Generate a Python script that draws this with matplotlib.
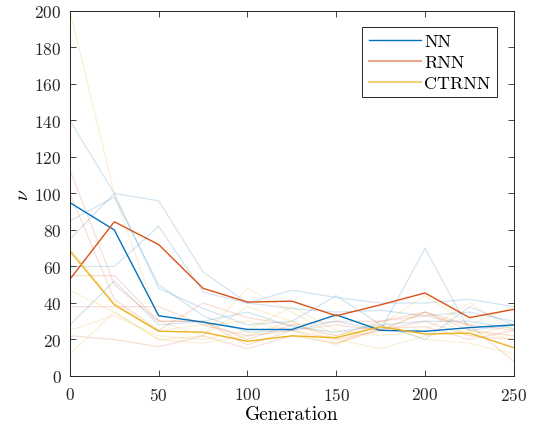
import matplotlib
matplotlib.use("Agg")
import matplotlib.pyplot as plt
from matplotlib.lines import Line2D

plt.rcParams["font.family"] = "serif"
plt.rcParams["font.serif"] = ["cmr10", "DejaVu Serif"]
plt.rcParams["mathtext.fontset"] = "cm"
plt.rcParams["axes.formatter.use_mathtext"] = True

generation = [0, 25, 50, 75, 100, 125, 150, 175, 200, 225, 250]

# mean curves
nn_mean = [95, 80, 33, 29.5, 25.5, 25.5, 33.5, 25, 24.5, 26.5, 28]
rnn_mean = [53, 84.5, 72, 48, 40.5, 41, 33, 39, 45.5, 32, 36.5]
ctrnn_mean = [68.5, 39, 24.5, 24, 19, 22, 21, 27, 23, 23.5, 15.5]

# individual runs
nn_runs = [
    [140, 100, 48, 37, 28, 30, 44, 28, 20, 38, 28],
    [85, 98, 50, 33, 24, 25, 30, 25, 70, 25, 28],
    [75, 100, 96, 57, 40, 37, 35, 36, 33, 35, 30],
    [60, 60, 82, 46, 40, 47, 43, 40, 40, 42, 38],
    [28, 52, 28, 30, 35, 27, 24, 28, 30, 30, 26],
]
rnn_runs = [
    [113, 50, 30, 30, 20, 28, 22, 30, 35, 25, 22],
    [100, 42, 25, 40, 32, 28, 30, 30, 33, 28, 25],
    [55, 55, 30, 30, 17, 25, 20, 25, 35, 28, 8],
    [38, 38, 38, 28, 22, 25, 28, 25, 30, 22, 20],
    [22, 20, 16, 22, 15, 22, 18, 26, 27, 20, 25],
]
ctrnn_runs = [
    [200, 100, 30, 22, 38, 30, 18, 25, 35, 22, 28],
    [47, 35, 20, 22, 48, 35, 22, 28, 44, 28, 38],
    [25, 33, 22, 20, 25, 38, 25, 22, 25, 40, 25],
    [12, 35, 20, 18, 22, 30, 20, 15, 22, 25, 20],
    [70, 40, 25, 28, 30, 25, 17, 30, 20, 18, 12],
]

c_nn = "#0072BD"
c_rnn = "#D95319"
c_ctrnn = "#EDB120"

fig = plt.figure(figsize=(5.42, 4.31), dpi=100)
ax = fig.add_axes([0.129, 0.1253, 0.819, 0.8469])

for run in nn_runs:
    ax.plot(generation, run, color=c_nn, alpha=0.18, lw=0.9)
for run in rnn_runs:
    ax.plot(generation, run, color=c_rnn, alpha=0.18, lw=0.9)
for run in ctrnn_runs:
    ax.plot(generation, run, color=c_ctrnn, alpha=0.18, lw=0.9)

ax.plot(generation, nn_mean, color=c_nn, lw=1.0)
ax.plot(generation, rnn_mean, color=c_rnn, lw=1.0)
ax.plot(generation, ctrnn_mean, color=c_ctrnn, lw=1.0)

ax.set_xlim(0, 250)
ax.set_ylim(0, 200)
ax.set_xticks(range(0, 251, 50))
ax.set_yticks(range(0, 201, 20))
ax.tick_params(direction="in", top=True, right=True, labelsize=12.5,
               length=4, width=0.6, colors="#262626")
ax.tick_params(axis="x", pad=7)
ax.tick_params(axis="y", pad=6)
for s in ax.spines.values():
    s.set_color("#262626")
    s.set_linewidth(0.7)

ax.set_xlabel("Generation", fontsize=14, labelpad=2)
ax.set_ylabel(r"$\nu$", fontsize=14, labelpad=2)

handles = [
    Line2D([], [], color=c_nn, lw=1.0),
    Line2D([], [], color=c_rnn, lw=1.5, alpha=0.5),
    Line2D([], [], color=c_ctrnn, lw=1.5, alpha=0.6),
]
leg = ax.legend(handles, ["NN", "RNN", "CTRNN"], loc="upper right",
                bbox_to_anchor=(0.9625, 0.956), fontsize=13, fancybox=False,
                framealpha=1, edgecolor="#262626", handlelength=2.9,
                handletextpad=0.2, borderpad=0.35, labelspacing=0.3,
                borderaxespad=0)
leg.get_frame().set_linewidth(0.7)

fig.savefig("out.png", dpi=100)
